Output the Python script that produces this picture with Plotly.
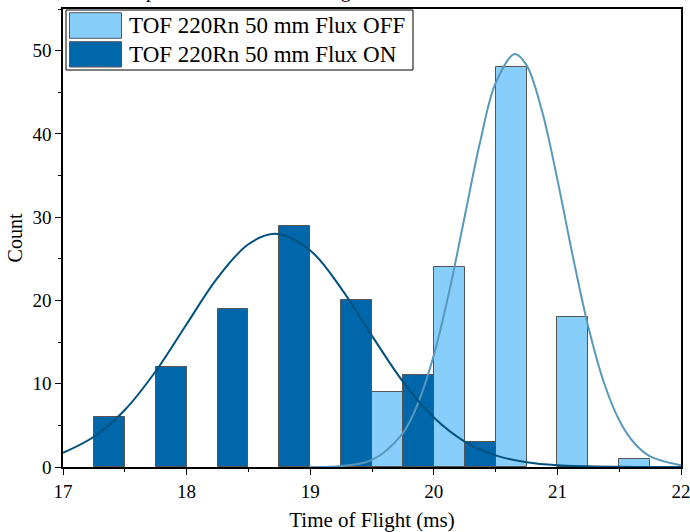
import plotly.graph_objects as go

# ---------------- data ----------------
on_centers = [17.375, 17.875, 18.375, 18.875, 19.375, 19.875, 20.375]
on_counts = [6, 12, 19, 29, 20, 11, 3]
off_centers = [19.625, 20.125, 20.625, 21.125, 21.625]
off_counts = [9, 24, 48, 18, 1]
bar_width = 0.25

# fitted curves, points
on_fit_x = [17.0, 17.25, 17.5, 17.75, 18.0, 18.25, 18.5, 18.72, 19.0, 19.25,
            19.5, 19.75, 20.0, 20.25, 20.5, 20.75, 21.0, 21.5, 22.0]
on_fit_y = [1.70, 3.63, 6.85, 11.5, 17.15, 22.72, 26.75, 28.0, 26.0, 21.46,
            15.75, 10.26, 5.94, 3.06, 1.40, 0.57, 0.21, 0.02, 0.0]
off_fit_x = [19.0, 19.25, 19.5, 19.75, 19.875, 20.0, 20.125, 20.25, 20.375, 20.5,
             20.655, 20.75, 20.875, 21.0, 21.125, 21.25, 21.375, 21.5, 21.625,
             21.75, 22.0]
off_fit_y = [0.01, 0.12, 0.85, 4.08, 7.76, 13.41, 21.07, 30.08, 39.05, 46.10,
             49.6, 48.26, 42.79, 34.51, 25.29, 16.85, 10.21, 5.62, 2.82,
             1.28, 0.20]

legend_labels = ["TOF 220Rn 50 mm Flux OFF", "TOF 220Rn 50 mm Flux ON"]
title_text = "Comparison of TOF with Magnetic Flux ON and OFF"
x_ticks = [17, 18, 19, 20, 21, 22]
y_ticks = [0, 10, 20, 30, 40, 50]

# ---------------- styles ----------------
OFF_COLOR = "#87CEFA"
ON_COLOR = "#0067AA"
OFF_LINE = "#5898BD"
ON_LINE = "#00507F"
EDGE = "#555555"
FONT = "Liberation Serif"

fig = go.Figure()
fig.add_trace(go.Bar(x=off_centers, y=off_counts, width=bar_width,
                     marker=dict(color=OFF_COLOR, line=dict(color=EDGE, width=1)),
                     name=legend_labels[0], showlegend=False))
fig.add_trace(go.Bar(x=on_centers, y=on_counts, width=bar_width,
                     marker=dict(color=ON_COLOR, line=dict(color=EDGE, width=1)),
                     name=legend_labels[1], showlegend=False))
fig.add_trace(go.Scatter(x=off_fit_x, y=off_fit_y, mode="lines",
                         line=dict(color=OFF_LINE, width=2, shape="spline"),
                         showlegend=False, cliponaxis=True))
fig.add_trace(go.Scatter(x=on_fit_x, y=on_fit_y, mode="lines",
                         line=dict(color=ON_LINE, width=2, shape="spline"),
                         showlegend=False, cliponaxis=True))

# plot area geometry (pixels)
L, R, T, B = 63, 681, 9, 467
W, H = R - L, B - T


def px(x):
    return (x - L) / W


def py(y):
    return (B - y) / H


shapes = [
    dict(type="rect", xref="paper", yref="paper", x0=px(66), x1=px(413),
         y0=py(70), y1=py(10), line=dict(color="black", width=1),
         fillcolor="white", layer="above"),
    dict(type="rect", xref="paper", yref="paper", x0=px(69.5), x1=px(121.5),
         y0=py(38.3), y1=py(12.7), line=dict(color=EDGE, width=1),
         fillcolor=OFF_COLOR, layer="above"),
    dict(type="rect", xref="paper", yref="paper", x0=px(69.5), x1=px(121.5),
         y0=py(67), y1=py(41.7), line=dict(color=EDGE, width=1),
         fillcolor=ON_COLOR, layer="above"),
]

annotations = [
    dict(text=legend_labels[0], xref="paper", yref="paper", x=px(127), y=py(25.5),
         xanchor="left", yanchor="middle", showarrow=False,
         font=dict(family=FONT, size=23, color="black")),
    dict(text=legend_labels[1], xref="paper", yref="paper", x=px(127), y=py(54.5),
         xanchor="left", yanchor="middle", showarrow=False,
         font=dict(family=FONT, size=23, color="black")),
    dict(text=title_text, xref="paper", yref="paper", x=px(105), y=py(-10),
         xanchor="left", yanchor="middle", showarrow=False,
         font=dict(family=FONT, size=20, color="black")),
]

fig.update_layout(
    width=690, height=532,
    margin=dict(l=L, r=690 - R, t=T, b=532 - B, pad=0, autoexpand=False),
    paper_bgcolor="white", plot_bgcolor="white",
    barmode="overlay", bargap=0,
    font=dict(family=FONT, size=18, color="black"),
    shapes=shapes, annotations=annotations,
    showlegend=False,
)
fig.update_xaxes(
    range=[17, 22], tickvals=x_ticks, ticktext=[str(v) for v in x_ticks],
    showgrid=False, zeroline=False, automargin=False, ticklabeloverflow="allow",
    showline=True, linecolor="black", linewidth=1.5, mirror=True,
    ticks="outside", ticklen=6, tickwidth=1, tickcolor="black",
    minor=dict(dtick=0.5, tick0=17, ticks="outside", ticklen=3, tickcolor="black"),
    tickfont=dict(family=FONT, size=19),
    title=dict(text="Time of Flight (ms)", font=dict(family=FONT, size=21), standoff=14),
)
fig.update_yaxes(
    range=[0, 55], tickvals=y_ticks, ticktext=[str(v) for v in y_ticks],
    showgrid=False, zeroline=False, automargin=False, ticklabeloverflow="allow",
    showline=True, linecolor="black", linewidth=1.5, mirror=True,
    ticks="outside", ticklen=6, tickwidth=1, tickcolor="black",
    minor=dict(dtick=5, tick0=0, ticks="outside", ticklen=3, tickcolor="black"),
    tickfont=dict(family=FONT, size=19),
    title=dict(text="Count", font=dict(family=FONT, size=20), standoff=4),
)

fig.write_html("out.html")
